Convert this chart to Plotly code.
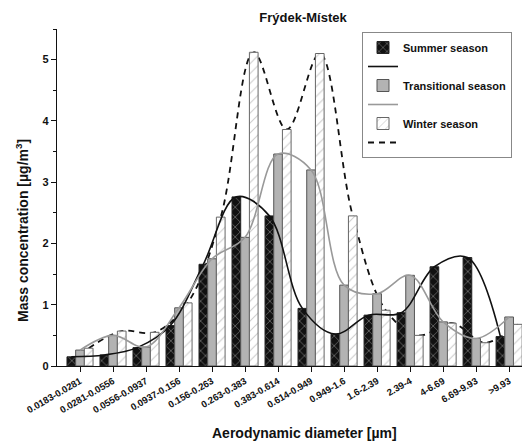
import plotly.graph_objects as go

categories = ["0.0183-0.0281", "0.0281-0.0556", "0.0556-0.0937", "0.0937-0.156",
              "0.156-0.263", "0.263-0.383", "0.383-0.614", "0.614-0.949",
              "0.949-1.6", "1.6-2.39", "2.39-4", "4-6.69", "6.69-9.93", ">9.93"]
summer = [0.15, 0.18, 0.30, 0.66, 1.66, 2.76, 2.45, 0.94, 0.52, 0.83, 0.87, 1.62, 1.77, 0.48]
transitional = [0.26, 0.50, 0.31, 0.95, 1.75, 2.10, 3.46, 3.20, 1.32, 1.18, 1.48, 0.72, 0.45, 0.80]
winter = [0.29, 0.57, 0.55, 1.03, 2.43, 5.12, 3.86, 5.10, 2.45, 0.91, 0.50, 0.70, 0.38, 0.68]
y_ticks = [0, 1, 2, 3, 4, 5]

FONT = "Liberation Sans, Arial, sans-serif"
BARGAP = 0.21
idx = list(range(len(categories)))
bw = (1 - BARGAP) / 3
x_summer = [i - bw for i in idx]
x_winter = [i + bw for i in idx]

fig = go.Figure()

# summer
fig.add_trace(go.Bar(
    x=idx, y=summer, name="Summer season", xaxis="x", yaxis="y2",
    marker=dict(color="#111111", line=dict(color="#222222", width=1),
                pattern=dict(shape="x", fgcolor="#f0f0f0", bgcolor="#111111",
                             size=7, solidity=0.18)),
))
fig.add_trace(go.Scatter(
    x=x_summer, y=summer, name=" ", mode="lines", xaxis="x", yaxis="y2",
    line=dict(color="#111111", width=1.6, shape="spline", smoothing=1),
))
# transitional
fig.add_trace(go.Bar(
    x=idx, y=transitional, name="Transitional season", xaxis="x", yaxis="y2",
    marker=dict(color="#b3b3b3", line=dict(color="#555555", width=1)),
))
fig.add_trace(go.Scatter(
    x=idx, y=transitional, name=" ", mode="lines", xaxis="x", yaxis="y2",
    line=dict(color="#999999", width=1.6, shape="spline", smoothing=1),
))
# winter
fig.add_trace(go.Bar(
    x=idx, y=winter, name="Winter season", xaxis="x", yaxis="y2",
    marker=dict(color="white", line=dict(color="#666666", width=1),
                pattern=dict(shape="/", fgcolor="#9a9a9a", bgcolor="white",
                             size=7, solidity=0.15)),
))
fig.add_trace(go.Scatter(
    x=x_winter, y=winter, name=" ", mode="lines", xaxis="x", yaxis="y",
    line=dict(color="#111111", width=1.8, dash="6px,5px", shape="spline", smoothing=1),
))

xr = [-0.697, 13.39]
yr = [0, 5.5]

fig.update_layout(
    width=522, height=446,
    margin=dict(l=57, r=0, t=29, b=80, autoexpand=False),
    paper_bgcolor="white", plot_bgcolor="white",
    barmode="group", bargap=BARGAP, bargroupgap=0,
    font=dict(family=FONT, color="#111111"),
    title=dict(text="Frýdek-Místek", x=303 / 522, xanchor="center", xref="container",
               y=1 - 17 / 446, yanchor="middle", yref="container", automargin=False,
               font=dict(size=13, weight="bold", family=FONT)),
    xaxis=dict(range=xr, tickmode="array", tickvals=idx, ticktext=categories,
               tickangle=-30, ticks="outside", ticklen=5, tickwidth=1, tickcolor="#111",
               showline=True, linecolor="#111", linewidth=1.2, showgrid=False, zeroline=False,
               automargin=False,
               tickfont=dict(size=9.5, weight="bold", family=FONT)),
    yaxis=dict(range=yr, tickvals=y_ticks, ticks="outside", ticklen=5, tickwidth=1,
               tickcolor="#111", showline=True, linecolor="#111", linewidth=1.2,
               showgrid=False, zeroline=False, automargin=False,
               minor=dict(dtick=0.5, ticks="outside", ticklen=3, tickcolor="#111", showgrid=False),
               tickfont=dict(size=11, weight="bold", family=FONT)),
    yaxis2=dict(range=yr, overlaying="y", visible=False, showgrid=False, automargin=False),
    legend=dict(x=(362 - 57) / 465, y=(366 - 32) / 337, xanchor="left", yanchor="top",
                bgcolor="white", bordercolor="#888888", borderwidth=1,
                font=dict(size=11, weight="bold", family=FONT),
                tracegroupgap=0, traceorder="normal"),
    annotations=[
        dict(text="Mass concentration [µg/m<sup>3</sup>]", xref="paper", yref="paper",
             x=-(57 - 22) / 465, y=(366 - 231) / 337, textangle=-90, showarrow=False,
             xanchor="center", yanchor="middle",
             font=dict(size=14, weight="bold", family=FONT)),
        dict(text="Aerodynamic diameter [µm]", xref="paper", yref="paper",
             x=(304 - 57) / 465, y=-(433 - 366) / 337, showarrow=False,
             xanchor="center", yanchor="middle",
             font=dict(size=14, weight="bold", family=FONT)),
    ],
)

fig.write_html("out.html", config={"displayModeBar": False},
               post_script="document.body.style.margin='0';document.body.style.overflow='hidden';")
